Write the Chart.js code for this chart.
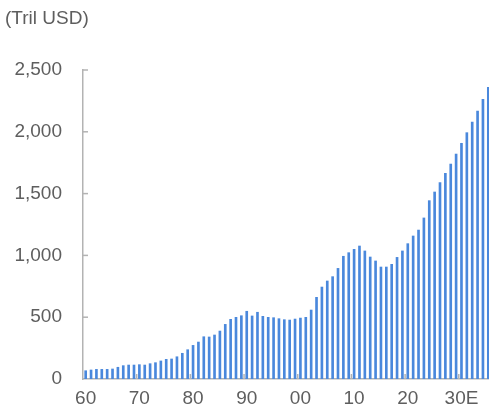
<!DOCTYPE html>
<html>
<head>
<meta charset="utf-8">
<script src="https://cdn.jsdelivr.net/npm/chart.js@4/dist/chart.umd.min.js"></script>
<style>
    html, body { margin: 0; padding: 0; background: #fff; overflow: hidden; }
    #wrap { position: relative; width: 489px; height: 412px; overflow: hidden; }
    #unit { position: absolute; left: 5px; top: 7px; font: 19px "Liberation Sans", Arial, sans-serif; color: #5e5e5e; line-height: 22px; }
    canvas { position: absolute; left: 0; top: 0; }
</style>
</head>
<body>
<div id="wrap">
    <canvas id="chart" width="491" height="412"></canvas>
    <div id="unit">(Tril USD)</div>
</div>
<script>
// Data
const years = [];
for (let y = 1960; y <= 2035; y++) years.push(String(y));

const values = [
    67, 73, 78, 78, 78, 81, 95, 108, 113, 113,          // 1960s
    116, 113, 124, 132, 146, 159, 162, 180, 208, 237,   // 1970s
    272, 299, 342, 340, 356, 388, 442, 483, 499, 512,   // 1980s
    548, 510, 540, 507, 499, 496, 488, 480, 477, 485,   // 1990s
    493, 499, 558, 661, 744, 793, 828, 895, 993, 1022,  // 2000s
    1049, 1076, 1036, 987, 955, 906, 906, 928, 984, 1036, // 2010s
    1095, 1157, 1205, 1303, 1443, 1513, 1589, 1664, 1739, 1820, // 2020s
    1907, 1993, 2079, 2168, 2263, 2360                  // 2030s (E)
];

const xTickLabels = ['60', '70', '80', '90', '00', '10', '20', '30E'];
const yTicks = [0, 500, 1000, 1500, 2000, 2500];

const axisColor = '#b3b3b3';
const textColor = '#5e5e5e';
const font = { family: '"Liberation Sans", Arial, sans-serif', size: 19 };

// Small inward tick marks, like the original
const innerTicks = {
    id: 'innerTicks',
    afterDatasetsDraw(chart) {
        const ctx = chart.ctx;
        const x = chart.scales.x;
        const y = chart.scales.y;
        ctx.save();
        ctx.strokeStyle = axisColor;
        ctx.lineWidth = 1.5;
        yTicks.forEach(v => {
            if (v === 0) return;
            const py = y.getPixelForValue(v);
            ctx.beginPath();
            ctx.moveTo(x.left, py);
            ctx.lineTo(x.left + 5, py);
            ctx.stroke();
        });
        for (let i = 10; i < years.length; i += 10) {
            const px = (x.getPixelForValue(i - 1) + x.getPixelForValue(i)) / 2;
            ctx.beginPath();
            ctx.moveTo(px, y.bottom);
            ctx.lineTo(px, y.bottom - 5);
            ctx.stroke();
        }
        ctx.restore();
    }
};

new Chart(document.getElementById('chart'), {
    type: 'bar',
    data: {
        labels: years,
        datasets: [{
            data: values,
            backgroundColor: '#4a88dc',
            barThickness: 2
        }]
    },
    options: {
        responsive: false,
        animation: false,
        layout: { padding: { top: 70, right: 0, bottom: 0, left: 0 } },
        plugins: {
            legend: { display: false },
            tooltip: { enabled: false }
        },
        scales: {
            x: {
                offset: true,
                grid: { display: false, drawTicks: false },
                border: { display: true, color: axisColor, width: 1.5 },
                ticks: {
                    autoSkip: false,
                    maxRotation: 0,
                    padding: 8,
                    color: textColor,
                    font: font,
                    callback: function(value, index) {
                        return index % 10 === 0 ? xTickLabels[index / 10] : null;
                    }
                },
                afterFit: function(scale) { scale.height = 33; }
            },
            y: {
                min: 0,
                max: 2500,
                grid: { display: false, drawTicks: false },
                border: { display: true, color: axisColor, width: 1.5 },
                ticks: {
                    stepSize: 500,
                    padding: 21,
                    color: textColor,
                    font: font,
                    callback: function(value) { return value.toLocaleString('en-US'); }
                },
                afterFit: function(scale) { scale.width = 83; }
            }
        }
    },
    plugins: [innerTicks]
});
</script>
</body>
</html>
